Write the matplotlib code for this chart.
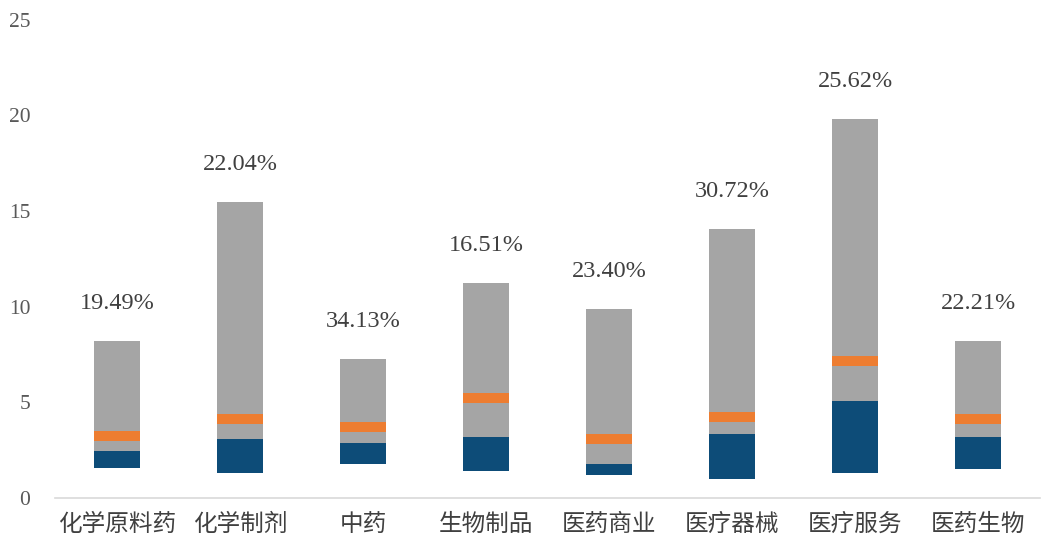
import matplotlib.pyplot as plt
import numpy as np

plt.rcParams['font.family'] = ['Liberation Serif', 'Noto Sans CJK SC', 'DejaVu Sans']

categories = ['化学原料药', '化学制剂', '中药', '生物制品', '医药商业', '医疗器械', '医疗服务', '医药生物']
low = [1.57, 1.31, 1.78, 1.41, 1.20, 0.99, 1.31, 1.52]      # minimum
mid = [2.46, 3.09, 2.88, 3.19, 1.78, 3.35, 5.08, 3.19]      # top of blue segment
high = [8.22, 15.45, 7.28, 11.26, 9.90, 14.08, 19.79, 8.22]  # maximum
current = [3.25, 4.14, 3.72, 5.24, 3.09, 4.24, 7.17, 4.14]
pct_labels = ['19.49%', '22.04%', '34.13%', '16.51%', '23.40%', '30.72%', '25.62%', '22.21%']

low = np.array(low)
mid = np.array(mid)
high = np.array(high)
current = np.array(current)
x = np.arange(len(categories))
w = 0.375

fig = plt.figure(figsize=(10.43, 5.46), dpi=100)
ax = fig.add_axes([0.053, 0.088, 0.944, 0.876])

ax.bar(x, mid - low, bottom=low, width=w, color='#0D4C78')
ax.bar(x, high - mid, bottom=mid, width=w, color='#A5A5A5')
ax.bar(x, 0.52, bottom=current - 0.26, width=w, color='#ED7D31')

for xi, top, lab in zip(x, high, pct_labels):
    ax.annotate(lab, (xi, top), xytext=(0, 27), textcoords='offset points',
                ha='center', va='center', fontsize=17.5, color='#404040')

ax.set_xlim(-0.5, len(categories) - 0.5)
ax.set_ylim(0, 25)
ax.set_yticks(np.arange(0, 26, 5))
ax.set_xticks(x)
ax.set_xticklabels(categories, fontsize=17, color='#404040',
                   family=['Noto Sans CJK SC', 'DejaVu Sans'])
ax.tick_params(axis='y', labelsize=15.5, labelcolor='#595959', length=0, pad=18)
ax.tick_params(axis='x', length=0, pad=11)
for s in ['top', 'right', 'left']:
    ax.spines[s].set_visible(False)
ax.spines['bottom'].set_color('#D9D9D9')
ax.spines['bottom'].set_linewidth(1.2)

fig.savefig('out.png', dpi=100)
